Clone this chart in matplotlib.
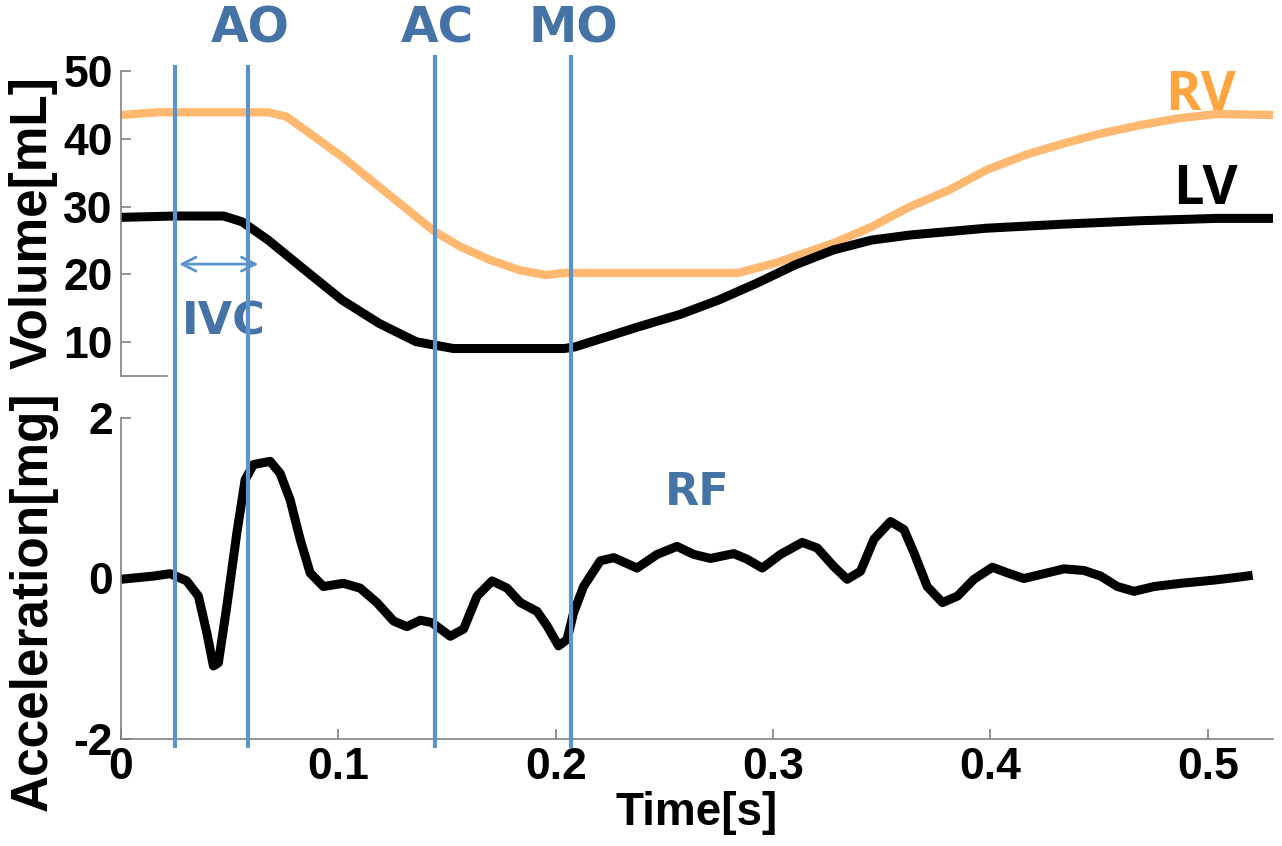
import numpy as np
import matplotlib
matplotlib.use("Agg")
import matplotlib.pyplot as plt
from matplotlib.transforms import blended_transform_factory

# Volumen-Kurven (Zeit in s, Volumen in mL)
lv_t = [0.0, 0.0251, 0.0472, 0.0557, 0.0677, 0.0847, 0.1017, 0.1188, 0.1358, 0.1529,
        0.1699, 0.2039, 0.2090, 0.2380, 0.2574, 0.2749, 0.2926, 0.3102, 0.3278, 0.3453,
        0.3631, 0.3982, 0.4336, 0.4687, 0.5040, 0.5304]
lv_vol = [28.4, 28.6, 28.6, 27.75, 25.05, 20.6, 16.2, 12.75, 10.05, 9.05,
          9.05, 9.05, 9.3, 12.25, 14.1, 16.2, 18.7, 21.4, 23.6, 25.05,
          25.8, 26.8, 27.4, 27.9, 28.25, 28.25]

rv_t = [0.0, 0.0166, 0.0677, 0.0762, 0.0879, 0.1017, 0.1188, 0.1358, 0.1443, 0.1560,
        0.1699, 0.1835, 0.1954, 0.2039, 0.2666, 0.2838, 0.3014, 0.3278, 0.3453, 0.3631,
        0.3808, 0.3982, 0.4159, 0.4336, 0.4512, 0.4687, 0.4864, 0.5040, 0.5304]
rv_vol = [43.5, 43.9, 43.9, 43.25, 40.55, 37.35, 32.9, 28.5, 26.3, 24.1,
          22.1, 20.6, 19.9, 20.2, 20.2, 20.2, 21.7, 24.6, 27.0, 30.0,
          32.4, 35.4, 37.6, 39.3, 40.8, 42.0, 43.0, 43.65, 43.5]

# Beschleunigung RF (mg)
acc_t = [0.0, 0.0149, 0.0226, 0.0302, 0.0356, 0.0395, 0.0425, 0.0448, 0.0487, 0.0533,
         0.0571, 0.0609, 0.0686, 0.0732, 0.0778, 0.0824, 0.0870, 0.0931, 0.1023, 0.1100,
         0.1177, 0.1254, 0.1315, 0.1377, 0.1430, 0.1515, 0.1576, 0.1638, 0.1707, 0.1776,
         0.1837, 0.1914, 0.1960, 0.2013, 0.2052, 0.2082, 0.2128, 0.2205, 0.2267, 0.2374,
         0.2466, 0.2558, 0.2635, 0.2712, 0.2819, 0.2881, 0.2950, 0.3034, 0.3134, 0.3203,
         0.3279, 0.3341, 0.3402, 0.3464, 0.3540, 0.3602, 0.3648, 0.3709, 0.3779, 0.3848,
         0.3924, 0.4009, 0.4078, 0.4154, 0.4231, 0.4338, 0.4430, 0.4507, 0.4584, 0.4661,
         0.4753, 0.4876, 0.5029, 0.5121, 0.5206]
acc_val = [-0.01, 0.03, 0.06, -0.03, -0.22, -0.68, -1.09, -1.05, -0.34, 0.57,
           1.23, 1.42, 1.46, 1.31, 0.98, 0.49, 0.07, -0.10, -0.06, -0.12,
           -0.30, -0.53, -0.60, -0.52, -0.55, -0.72, -0.63, -0.22, -0.03, -0.12,
           -0.30, -0.41, -0.59, -0.84, -0.76, -0.43, -0.10, 0.22, 0.26, 0.13,
           0.30, 0.40, 0.30, 0.25, 0.31, 0.24, 0.13, 0.30, 0.45, 0.38,
           0.15, -0.01, 0.09, 0.49, 0.71, 0.61, 0.32, -0.10, -0.30, -0.22,
           -0.01, 0.14, 0.07, 0.00, 0.05, 0.12, 0.10, 0.03, -0.10, -0.16,
           -0.10, -0.06, -0.02, 0.01, 0.04]

# Herzphasen-Marker
event_names = ['', 'AO', 'AC', 'MO']
event_t = [0.0249, 0.0585, 0.1446, 0.2072]

LINE_BLUE = '#5B93CF'
TEXT_BLUE = '#4673A6'
GREY = '#808080'
TICK_FONT = dict(family='Liberation Sans', weight='bold', size=32)

fig = plt.figure(figsize=(12.82, 8.46), dpi=100)
ax1 = fig.add_axes([0.0944, 0.5556, 0.8986, 0.3605])
ax2 = fig.add_axes([0.0944, 0.1265, 0.8986, 0.3794])

ax1.plot(rv_t, rv_vol, color='#FFB870', lw=6, solid_joinstyle='round', solid_capstyle='butt')
ax1.plot(lv_t, lv_vol, color='black', lw=6.5, solid_joinstyle='round', solid_capstyle='butt')
ax2.plot(acc_t, acc_val, color='black', lw=6.5, solid_joinstyle='round', solid_capstyle='butt')

for ax in (ax1, ax2):
    ax.set_xlim(0, 0.53)
    for s in ('top', 'right'):
        ax.spines[s].set_visible(False)
    for s in ('left', 'bottom'):
        ax.spines[s].set_color(GREY)
        ax.spines[s].set_linewidth(1.2)
    ax.tick_params(direction='in', length=7, width=1.2, color=GREY, pad=6)

ax1.set_ylim(5, 50)
ax1.set_yticks([10, 20, 30, 40, 50])
ax1.set_yticklabels(['10', '20', '30', '40', '50'], **TICK_FONT)
ax1.spines['bottom'].set_visible(False)
ax1.set_xticks([])
ax1.plot([0, 0.04], [0, 0], transform=ax1.transAxes, color=GREY, lw=1.2, clip_on=False)

ax2.set_ylim(-2, 2)
ax2.set_yticks([-2, 0, 2])
ax2.set_yticklabels(['-2', '0', '2'], **TICK_FONT)
ax2.set_xticks([0, 0.1, 0.2, 0.3, 0.4, 0.5])
ax2.set_xticklabels(['0', '0.1', '0.2', '0.3', '0.4', '0.5'], **TICK_FONT)

ax2.set_xlabel('Time[s]', labelpad=2, family='Liberation Sans', weight='bold', size=33)
ylab_font = dict(family='Liberation Sans', weight='bold', size=37)
fig.text(0.026, 0.737, 'Volume[mL]', rotation=90, ha='center', va='center', **ylab_font)
fig.text(0.026, 0.289, 'Acceleration[mg]', rotation=90, ha='center', va='center', **ylab_font)

# vertikale Linien ueber beide Achsen
trans = blended_transform_factory(ax2.transData, fig.transFigure)
for name, t in zip(event_names, event_t):
    top = 0.921 if name in ('', 'AO') else 0.933
    fig.add_artist(plt.Line2D([t, t], [0.118, top], transform=trans,
                              color=LINE_BLUE, lw=3))
    if name:
        fig.text(t + 0.001, 0.966, name, transform=trans, ha='center', va='center',
                 color=TEXT_BLUE, family='DejaVu Sans', weight='bold', size=35)

# IVC Pfeil
ax1.annotate('', xy=(event_t[1] + 0.006, 21.5), xytext=(event_t[0] + 0.0005, 21.5),
             arrowprops=dict(arrowstyle='<->', color=LINE_BLUE, lw=2,
                             mutation_scale=25))
ax1.text(0.0474, 13.0, 'IVC', ha='center', va='center', color=TEXT_BLUE,
         family='DejaVu Sans', weight='bold', size=32)
ax1.text(0.4968, 46.3, 'RV', ha='center', va='center', color='#FFA540',
         family='Open Sans', weight='bold', size=39)
ax1.text(0.499, 32.4, 'LV', ha='center', va='center', color='black',
         family='Open Sans', weight='bold', size=39)
ax2.text(0.265, 1.07, 'RF', ha='center', va='center', color=TEXT_BLUE,
         family='DejaVu Sans', weight='bold', size=32)

fig.savefig('out.png', dpi=100)
